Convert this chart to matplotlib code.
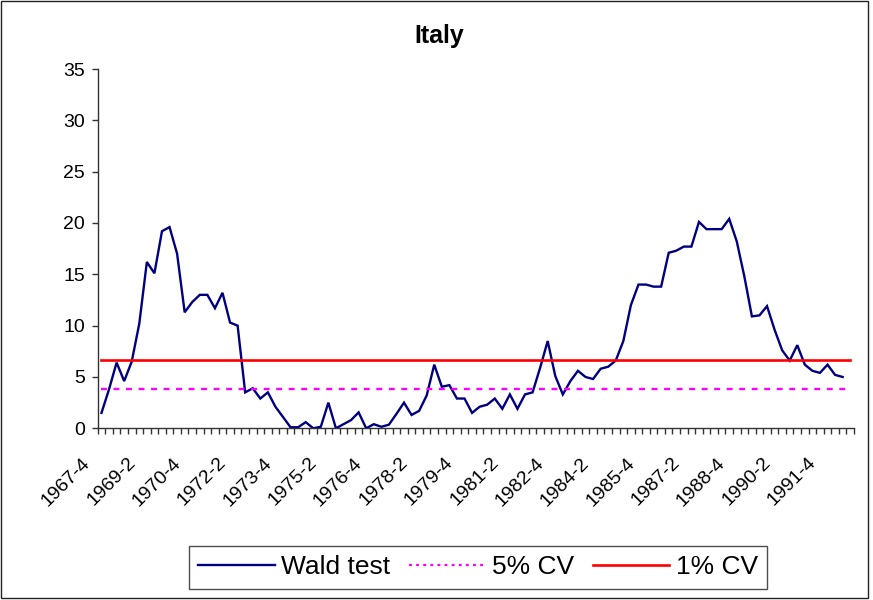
# -*- coding: utf-8 -*-
"""Italy: rolling Wald test against 5% / 1% critical values."""

import matplotlib

matplotlib.use("Agg")
import matplotlib.pyplot as plt
from matplotlib.lines import Line2D
from matplotlib.patches import Rectangle
from matplotlib.transforms import ScaledTranslation, blended_transform_factory
import numpy as np

plt.rcParams["font.family"] = ["Liberation Sans", "DejaVu Sans"]

# ==================== Data ====================
START_YEAR, START_Q = 1967, 4
N_QUARTERS = 100

wald_test = [
    1.5, 3.8, 6.4, 4.6, 6.5, 10.2, 16.2, 15.1, 19.2, 19.6,
    17.0, 11.3, 12.3, 13.0, 13.0, 11.7, 13.2, 10.3, 10.0, 3.5,
    3.9, 2.9, 3.5, 2.1, 1.1, 0.1, 0.1, 0.6, 0.0, 0.15,
    2.5, 0.0, 0.4, 0.8, 1.55, 0.0, 0.4, 0.15, 0.35, 1.4,
    2.5, 1.3, 1.7, 3.2, 6.2, 4.05, 4.2, 2.9, 2.9, 1.5,
    2.1, 2.3, 2.9, 1.9, 3.3, 1.9, 3.3, 3.5, 5.9, 8.5,
    5.1, 3.3, 4.6, 5.6, 5.0, 4.8, 5.8, 6.0, 6.6, 8.5,
    12.0, 14.0, 14.0, 13.8, 13.8, 17.1, 17.3, 17.7, 17.7, 20.1,
    19.4, 19.4, 19.4, 20.4, 18.2, 14.8, 10.9, 11.0, 11.9, 9.6,
    7.6, 6.6, 8.1, 6.2, 5.6, 5.4, 6.2, 5.2, 5.0,
]
CV_5 = 3.84
CV_1 = 6.63

tick_labels = [
    "1967-4", "1969-2", "1970-4", "1972-2", "1973-4", "1975-2",
    "1976-4", "1978-2", "1979-4", "1981-2", "1982-4", "1984-2",
    "1985-4", "1987-2", "1988-4", "1990-2", "1991-4",
]
# ===============================================

quarters = []
y, q = START_YEAR, START_Q
for _ in range(N_QUARTERS):
    quarters.append(f"{y}-{q}")
    q += 1
    if q > 4:
        y, q = y + 1, 1

x_all = np.arange(N_QUARTERS)
x_wald = np.arange(len(wald_test))
cv5 = np.full(N_QUARTERS, CV_5)
cv1 = np.full(N_QUARTERS, CV_1)

fig = plt.figure(figsize=(8.73, 6.0), dpi=100)
ax = fig.add_axes([97.7 / 873, 1 - 428.3 / 600, (854 - 97.7) / 873, (428.3 - 69) / 600])

ax.plot(x_wald, wald_test, color="#000080", lw=1.7, solid_joinstyle="miter", zorder=3)
ax.plot(x_all, cv5, color="#FF00FF", lw=1.7, linestyle=(0, (2.5, 2.8)), zorder=4)
ax.plot(x_all, cv1, color="#FF0000", lw=1.9, zorder=5)

ax.set_xlim(-0.5, N_QUARTERS - 0.5)
ax.set_ylim(0, 35)
ax.set_yticks(np.arange(0, 36, 5))
ax.tick_params(axis="y", direction="out", length=4, width=1, pad=5, labelsize=14, color="#333333")

# category boundary ticks, labels placed by hand (Excel style)
ax.set_xticks(np.arange(-0.5, N_QUARTERS, 1.0), minor=True)
ax.set_xticks([])
ax.tick_params(axis="x", which="minor", direction="out", length=4, width=1, color="#333333")

label_pos = [quarters.index(lab) for lab in tick_labels]
trans = blended_transform_factory(ax.transData, ax.transAxes) + ScaledTranslation(
    -14 / 100, -32 / 100, fig.dpi_scale_trans
)
for pos, lab in zip(label_pos, tick_labels):
    ax.text(pos, 0, lab, rotation=45, rotation_mode="anchor", ha="right", va="center",
            fontsize=14, transform=trans, clip_on=False)

for side in ("top", "right"):
    ax.spines[side].set_visible(False)
for side in ("left", "bottom"):
    ax.spines[side].set_color("#333333")
    ax.spines[side].set_linewidth(1)

fig.text(439 / 873, 1 - 36 / 600, "Italy", ha="center", va="center", fontsize=18, fontweight="bold")

handles = [
    Line2D([], [], color="#000080", lw=1.7),
    Line2D([], [], color="#FF00FF", lw=1.6, linestyle=(0, (1.3, 1.9))),
    Line2D([], [], color="#FF0000", lw=1.9),
]
leg = fig.legend(
    handles, ["Wald test", "5% CV", "1% CV"],
    loc="center", bbox_to_anchor=(478 / 873, 1 - 567.5 / 600), ncol=3,
    fontsize=19, frameon=True, fancybox=False, edgecolor="#222222",
    handlelength=2.9, handletextpad=0.25, columnspacing=0.7,
    borderpad=0.35, borderaxespad=0,
)
leg.get_frame().set_linewidth(1)

fig.patches.append(Rectangle((1 / 873, 2 / 600), 867 / 873, 597 / 600, transform=fig.transFigure,
                             fill=False, edgecolor="#222222", lw=1))

fig.savefig("out.png", dpi=100)
plt.close(fig)
